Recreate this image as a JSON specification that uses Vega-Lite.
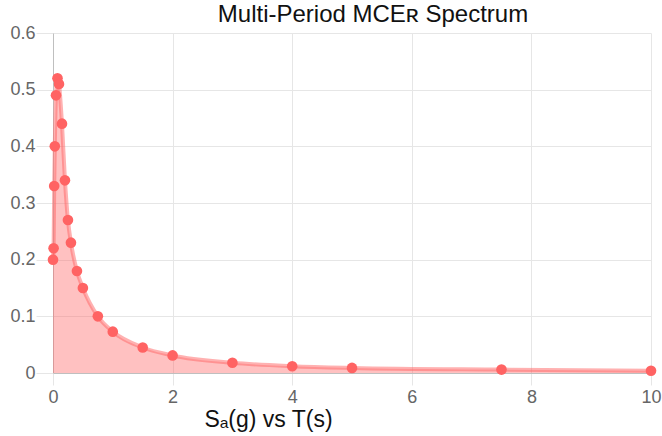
{
  "$schema": "https://vega.github.io/schema/vega-lite/v6.json",
  "autosize": {"type": "none"},
  "width": 598,
  "height": 340,
  "padding": {"left": 53, "top": 33, "right": 11, "bottom": 63},
  "background": "white",
  "title": {
    "text": "Multi-Period MCEʀ Spectrum",
    "font": "Liberation Sans",
    "fontSize": 24,
    "fontWeight": "normal",
    "color": "#111111",
    "anchor": "middle",
    "frame": "group",
    "baseline": "alphabetic",
    "offset": -22,
    "dx": 21
  },
  "config": {
    "view": {"stroke": null},
    "axis": {
      "labelFont": "Liberation Sans",
      "titleFont": "Liberation Sans",
      "labelColor": "#666666",
      "labelFontSize": 18,
      "gridColor": "#e6e6e6",
      "tickColor": "#e6e6e6",
      "domainColor": "#bfbfbf"
    }
  },
  "data": {
    "values": [
      {"T": 0, "Sa": 0.2},
      {"T": 0.01, "Sa": 0.22},
      {"T": 0.02, "Sa": 0.33},
      {"T": 0.03, "Sa": 0.4},
      {"T": 0.05, "Sa": 0.49},
      {"T": 0.075, "Sa": 0.52},
      {"T": 0.1, "Sa": 0.51},
      {"T": 0.15, "Sa": 0.44},
      {"T": 0.2, "Sa": 0.34},
      {"T": 0.25, "Sa": 0.27},
      {"T": 0.3, "Sa": 0.23},
      {"T": 0.4, "Sa": 0.18},
      {"T": 0.5, "Sa": 0.15},
      {"T": 0.75, "Sa": 0.1},
      {"T": 1, "Sa": 0.073},
      {"T": 1.5, "Sa": 0.045},
      {"T": 2, "Sa": 0.031},
      {"T": 3, "Sa": 0.018},
      {"T": 4, "Sa": 0.012},
      {"T": 5, "Sa": 0.009},
      {"T": 7.5, "Sa": 0.006},
      {"T": 10, "Sa": 0.004}
    ]
  },
  "encoding": {
    "x": {
      "field": "T",
      "type": "quantitative",
      "scale": {"domain": [0, 10], "nice": false},
      "axis": {
        "values": [0, 2, 4, 6, 8, 10],
        "title": "Sₐ(g) vs T(s)",
        "titleFontSize": 23,
        "titleFontWeight": "normal",
        "titleColor": "#111111",
        "titleAnchor": "start",
        "titleAlign": "center",
        "titleBaseline": "alphabetic",
        "titleX": 215,
        "titleY": 53,
        "tickSize": 12,
        "labelPadding": 3,
        "labelFlush": false
      }
    },
    "y": {
      "field": "Sa",
      "type": "quantitative",
      "scale": {"domain": [0, 0.6], "nice": false},
      "axis": {
        "values": [0, 0.1, 0.2, 0.3, 0.4, 0.5, 0.6],
        "labelExpr": "datum.value === 0 ? '0' : format(datum.value, '.1f')",
        "title": null,
        "tickSize": 17,
        "labelPadding": 1,
        "labelFlush": false
      }
    }
  },
  "layer": [
    {"mark": {"type": "area", "interpolate": "monotone", "color": "#ff6363", "opacity": 0.4}},
    {"mark": {"type": "line", "interpolate": "monotone", "color": "#ff6363", "opacity": 0.5, "strokeWidth": 4}},
    {"mark": {"type": "point", "filled": true, "size": 113, "color": "#ff6363", "opacity": 1}}
  ]
}
